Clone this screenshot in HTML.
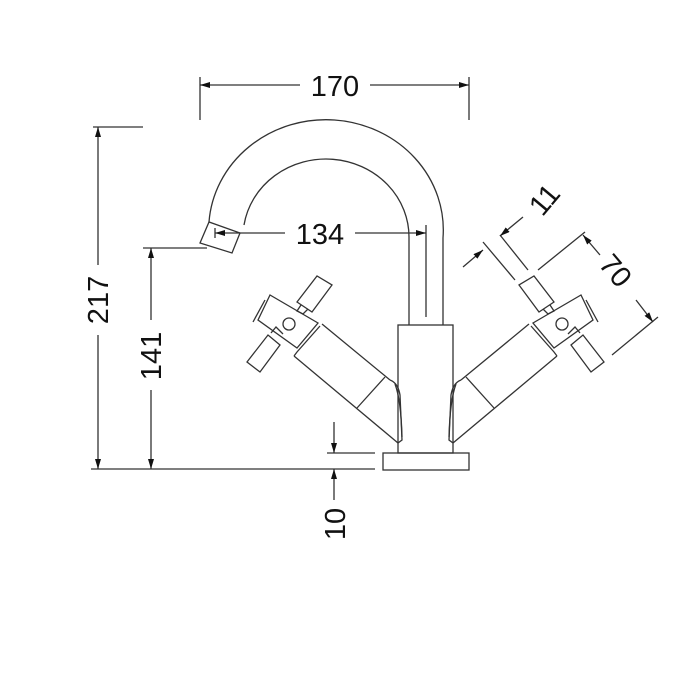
<!DOCTYPE html>
<html><head><meta charset="utf-8"><style>
html,body{margin:0;padding:0;background:#fff;width:700px;height:700px;overflow:hidden}
text{font-family:"Liberation Sans",sans-serif;font-size:29px;fill:#111}
</style></head><body>
<svg width="700" height="700" viewBox="0 0 700 700" xmlns="http://www.w3.org/2000/svg">
<defs>
<marker id="a" viewBox="0 0 10 6" refX="10" refY="3" markerWidth="10" markerHeight="6" orient="auto" markerUnits="userSpaceOnUse"><path d="M0,0L10,3L0,6z" fill="#111"/></marker>
</defs>
<g fill="none" stroke="#333" stroke-width="1.3">
<!-- 170 dim -->
<line x1="200" y1="77" x2="200" y2="120"/><line x1="469" y1="77" x2="469" y2="120"/>
<line x1="300" y1="85" x2="200" y2="85" marker-end="url(#a)"/>
<line x1="370" y1="85" x2="469" y2="85" marker-end="url(#a)"/>
<!-- 217 dim -->
<line x1="93" y1="127" x2="143" y2="127"/>
<line x1="98" y1="265" x2="98" y2="127" marker-end="url(#a)"/>
<line x1="98" y1="335" x2="98" y2="469" marker-end="url(#a)"/>
<!-- 141 -->
<line x1="143" y1="248" x2="207" y2="248"/>
<line x1="151" y1="320" x2="151" y2="248" marker-end="url(#a)"/>
<line x1="151" y1="390" x2="151" y2="469" marker-end="url(#a)"/>
<line x1="91" y1="469" x2="375" y2="469"/>
<!-- 10 -->
<line x1="327" y1="453" x2="375" y2="453"/>
<line x1="334" y1="422" x2="334" y2="453" marker-end="url(#a)"/>
<line x1="334" y1="500" x2="334" y2="469" marker-end="url(#a)"/>
<!-- 134 -->
<line x1="426" y1="225" x2="426" y2="317"/>
<line x1="285" y1="233" x2="215" y2="233" marker-end="url(#a)"/>
<line x1="215" y1="228" x2="215" y2="238"/>
<line x1="355" y1="233" x2="426" y2="233" marker-end="url(#a)"/>
<!-- base & body -->
<rect x="383" y="453" width="86" height="17"/>
<rect x="398" y="325" width="55" height="128"/>
<!-- spout -->
<path d="M409,325 L409,238 A83,78 0 0 0 244,225"/>
<path d="M443,325 L443,238 A117,110 0 0 0 209,222"/>
<path d="M200,243 L209,222 L240,233 L232,253 Z"/>
<!-- left handle -->
<g id="h">
<line x1="322" y1="324" x2="390" y2="380"/>
<line x1="294" y1="356" x2="398" y2="443"/>
<line x1="357" y1="408" x2="385" y2="377"/>
<path d="M390,380 Q398,383 400,395 L402,440 L398,443"/>
<path d="M395,384 Q401,400 402,437"/>
<path d="M270,295 L258,320 L297,348 L318,323 Z"/>
<path d="M265,300 L253,322"/>
<path d="M320,326 L297,352 L294,356"/>
<circle cx="289" cy="324" r="6"/>
<path d="M297,302 L317,276 L332,285 L312,312 Z"/>
<path d="M301,305 L297,311 L303,314 L308,309"/>
<path d="M247,362 L268,335 L280,345 L260,372 Z"/>
<path d="M271,333 L276,327 L283,334"/>
</g>
<use href="#h" transform="translate(851,0) scale(-1,1)"/>
<!-- 11 dim -->
<line x1="500" y1="235" x2="528" y2="270"/>
<line x1="483" y1="242" x2="515" y2="280"/>
<line x1="463" y1="267" x2="483" y2="250" marker-end="url(#a)"/>
<line x1="523" y1="217" x2="500" y2="236" marker-end="url(#a)"/>
<!-- 70 dim -->
<line x1="538" y1="270" x2="585" y2="232"/>
<line x1="612" y1="355" x2="658" y2="317"/>
<line x1="600" y1="255" x2="583" y2="235" marker-end="url(#a)"/>
<line x1="636" y1="300" x2="653" y2="322" marker-end="url(#a)"/>
</g>
<text x="335" y="96" text-anchor="middle">170</text>
<text x="320" y="244" text-anchor="middle">134</text>
<text transform="translate(108,300) rotate(-90)" text-anchor="middle">217</text>
<text transform="translate(161,356) rotate(-90)" text-anchor="middle">141</text>
<text transform="translate(345,524) rotate(-90)" text-anchor="middle">10</text>
<text transform="translate(552,206) rotate(-50)" text-anchor="middle">11</text>
<text transform="translate(608,277) rotate(50)" text-anchor="middle">70</text>
</svg>
</body></html>
